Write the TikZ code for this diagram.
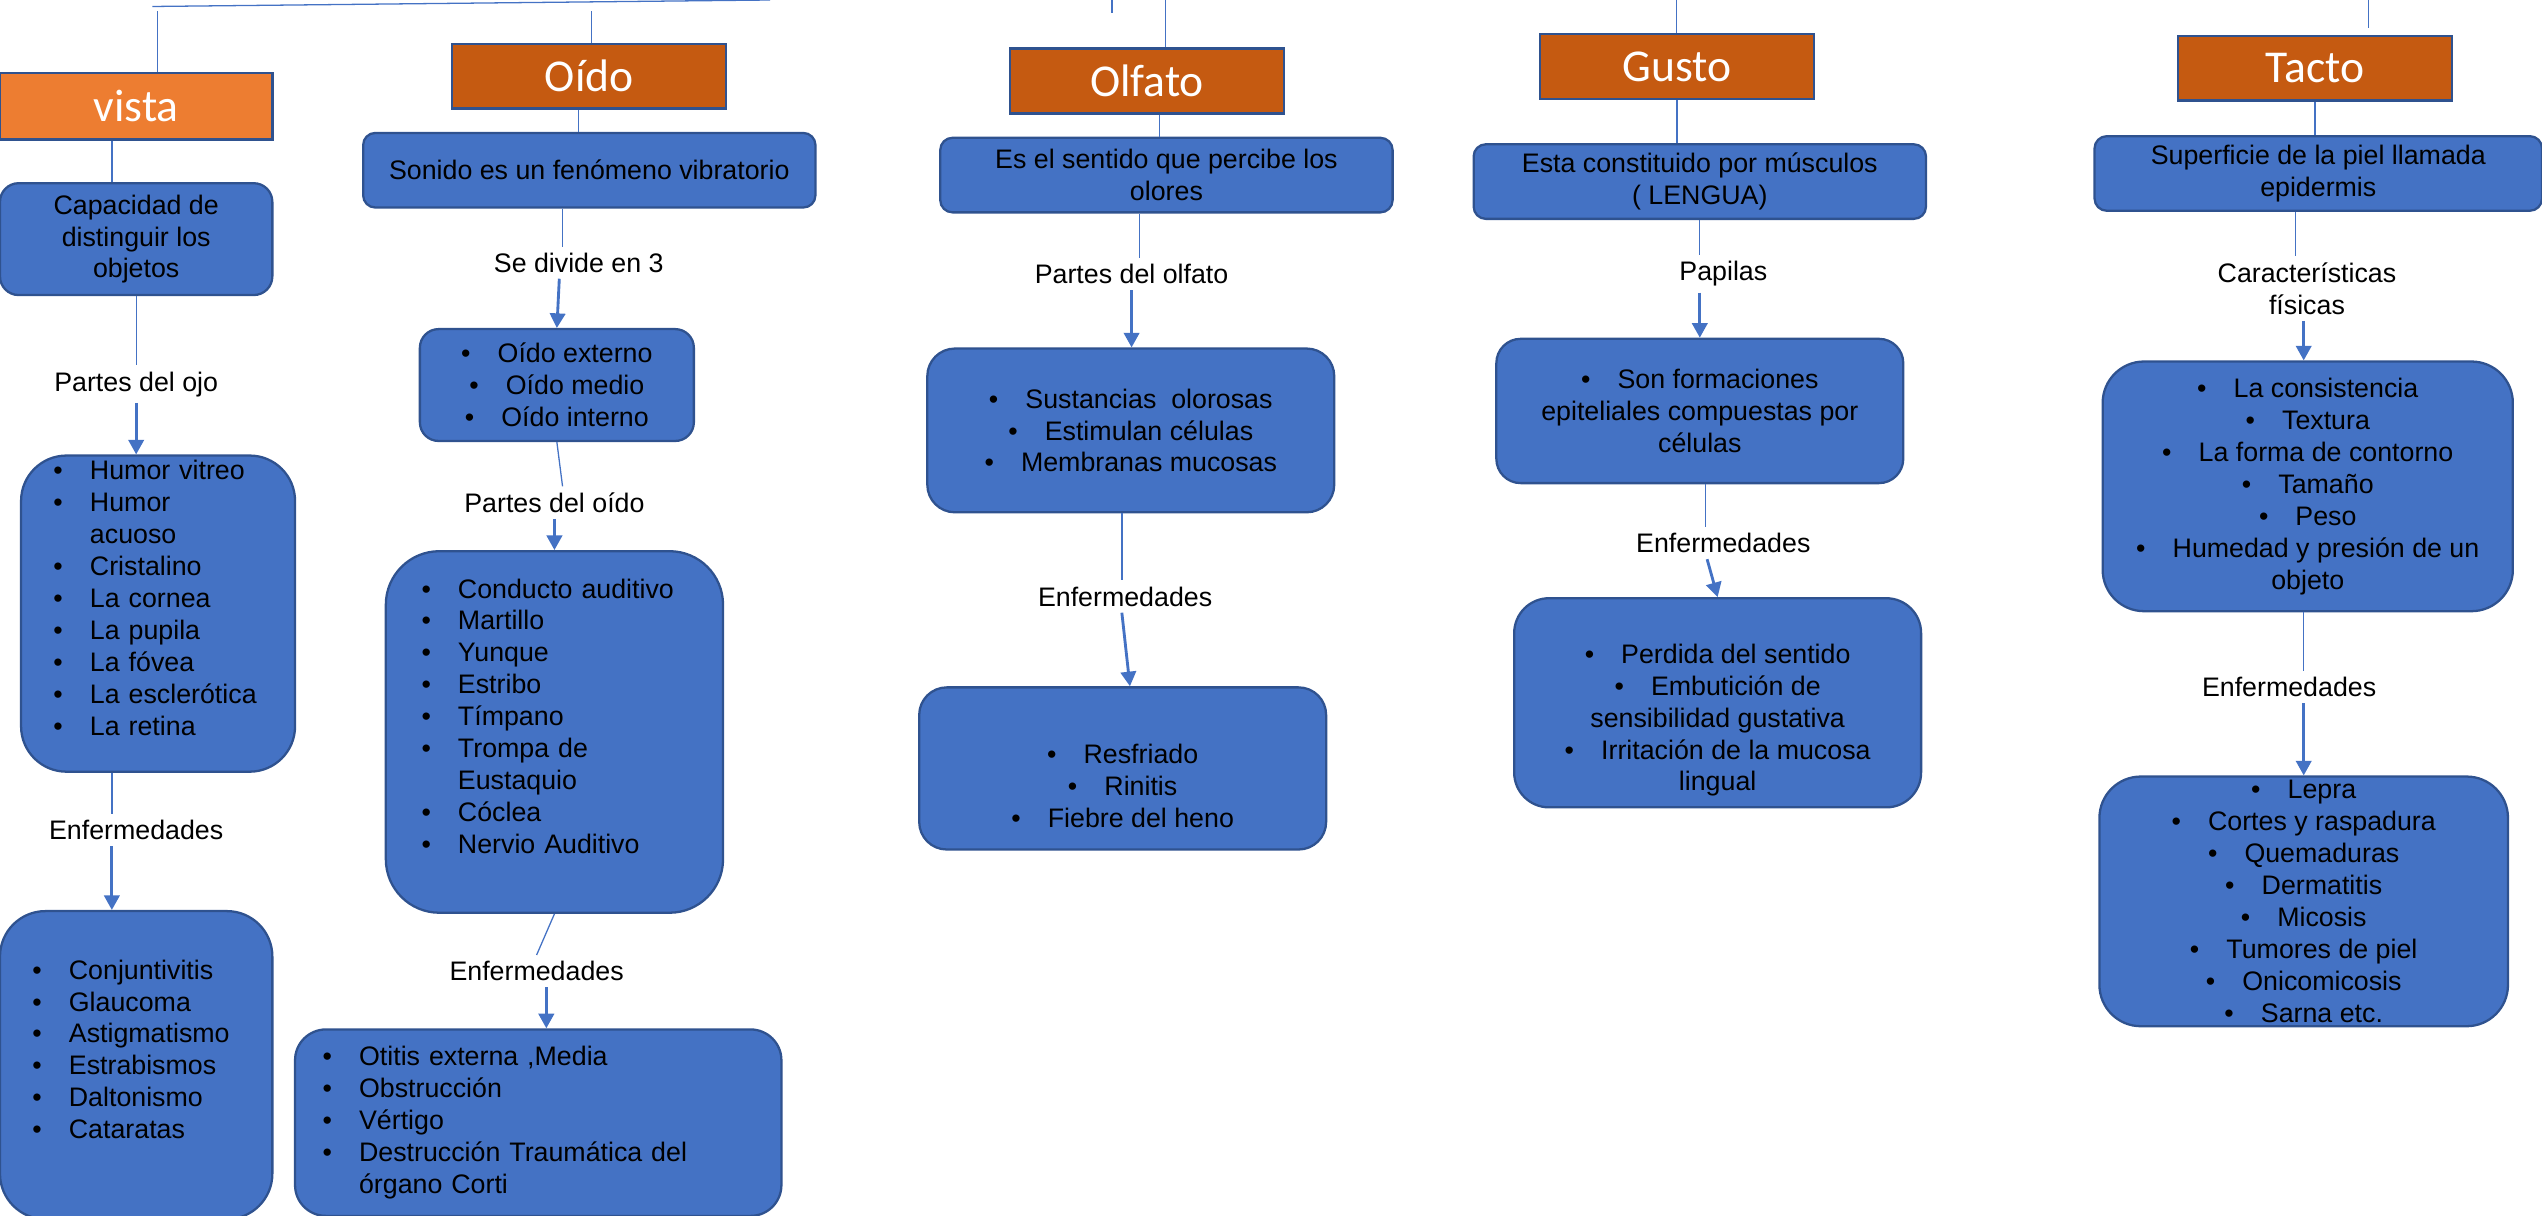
\documentclass[tikz,border=0pt]{standalone}
\usepackage{fontspec}
\setmainfont{Liberation Sans}
\newfontfamily\hdrfont{Carlito}
\usetikzlibrary{arrows.meta}

\definecolor{vistaorange}{HTML}{ED7D31}
\definecolor{senseorange}{HTML}{C55A11}
\definecolor{boxblue}{HTML}{4472C4}
\definecolor{edgeblue}{HTML}{2F528F}

\newcommand{\itm}{\makebox[4.5mm][l]{•}}
\newcommand{\hng}{\hspace*{4.5mm}}

\begin{document}
\begin{tikzpicture}[x=0.2mm,y=-0.2mm,>={Triangle[width=1.9mm,length=1.8mm]},
	font=\fontsize{9.4}{11.2}\selectfont,
	header/.style={draw=edgeblue,line width=0.8pt,fill=senseorange,text=white,
		font=\hdrfont\fontsize{16}{19}\selectfont,minimum width=33.8mm,minimum height=8mm,inner sep=0pt},
	bluebox/.style={draw=edgeblue,line width=0.8pt,fill=boxblue,inner sep=0pt,align=center},
	tag/.style={inner sep=2pt,align=center},
	conn/.style={draw=boxblue,line width=0.45pt},
	arr/.style={conn,line width=1pt,->}]
	\useasboundingbox (0,0) rectangle (1568,750);

	% Headers
	\node[header,fill=vistaorange,minimum width=33.6mm,minimum height=8.2mm] (vista) at (84,65.5) {vista};
	\foreach \nm/\x/\y/\txt in {oido/363.5/47/Oído,olfato/707.5/50/Olfato,gusto/1034.5/41/Gusto,tacto/1428/42/Tacto}
		\node[header] (\nm) at (\x,\y) {\txt};

	% Top branches
	\coordinate (top1) at (94,4);
	\coordinate (top2) at (475,0);
	\draw[conn] (top1) -- (top2);
	\coordinate (tvis) at (97,7);
	\draw[conn] (tvis) -- (tvis |- vista.north);
	\coordinate (toid) at (365,7);
	\draw[conn] (toid) -- (toid |- oido.north);
	\coordinate (ttick) at (686,0);
	\draw[conn] (ttick) -- ++(0,8);
	\coordinate (tolf) at (719,0);
	\draw[conn] (tolf) -- (tolf |- olfato.north);
	\coordinate (tgus) at (1034,0);
	\draw[conn] (tgus) -- (tgus |- gusto.north);
	\coordinate (ttac) at (1461,0);
	\draw[conn] (ttac) -- ++(0,17);

	% Vista
	\node[bluebox,minimum width=33.6mm,minimum height=13.8mm,rounded corners=2.3mm] (cap) at (84,147.5) {Capacidad de\\distinguir los\\objetos};
	\node[tag] (pojo) at (84,237) {Partes del ojo};
	\node[bluebox,minimum width=33.8mm,minimum height=39mm,rounded corners=5.6mm,text width=25.8mm,align=left] (ojo) at (97.5,378.5)
		{\itm Humor vitreo\\\itm Humor\\\hng acuoso\\\itm Cristalino\\\itm La cornea\\\itm La pupila\\\itm La fóvea\\\itm La~esclerótica\\\itm La retina\\~};
	\node[tag] (enfv) at (84,512) {Enfermedades};
	\node[bluebox,minimum width=33.6mm,minimum height=38mm,rounded corners=5.6mm,text width=25.6mm,align=left] (vdis) at (84,657)
		{\itm Conjuntivitis\\\itm Glaucoma\\\itm Astigmatismo\\\itm Estrabismos\\\itm Daltonismo\\\itm Cataratas\\~};
	\draw[conn] ([xshift=-3mm]vista.south) -- ([xshift=-3mm]cap.north);
	\draw[conn] (cap.south) -- (pojo.north);
	\draw[arr] (pojo.south) -- (pojo.south |- ojo.north);
	\draw[conn] ([xshift=-3mm]enfv.north |- ojo.south) -- ([xshift=-3mm]enfv.north);
	\draw[arr] ([xshift=-3mm]enfv.south) -- ([xshift=-3mm]vdis.north);

	% Oido
	\node[bluebox,minimum width=55.8mm,minimum height=9.2mm,rounded corners=1.5mm] (son) at (363.5,105) {Sonido es un fenómeno vibratorio};
	\node[tag] (sdiv) at (357,162) {Se divide en 3};
	\node[bluebox,minimum width=33.8mm,minimum height=13.8mm,rounded corners=2.3mm] (oext) at (343.5,237.5)
		{\itm Oído externo\\\itm Oído medio\\\itm Oído interno};
	\node[tag] (pod) at (342,310) {Partes del oído};
	\node[bluebox,minimum width=41.6mm,minimum height=44.6mm,rounded corners=6.6mm,text width=32.8mm,align=left] (opart) at (342,451.5)
		{\itm Conducto auditivo\\\itm Martillo\\\itm Yunque\\\itm Estribo\\\itm Tímpano\\\itm Trompa de\\\hng Eustaquio\\\itm Cóclea\\\itm Nervio Auditivo\\~};
	\node[tag] (enfo) at (331,599) {Enfermedades};
	\node[bluebox,minimum width=60mm,minimum height=23mm,rounded corners=3.8mm,text width=53.2mm,align=left] (odis) at (332,692.5)
		{\itm Otitis externa ,Media\\\itm Obstrucción\\\itm Vértigo\\\itm Destrucción Traumática del\\\hng órgano Corti};
	\draw[conn] ([xshift=-1.3mm]oido.south) -- ([xshift=-1.3mm]son.north);
	\draw[conn] ([xshift=-2mm]sdiv.north |- son.south) -- ([xshift=-2mm]sdiv.north);
	\draw[arr] ([xshift=-2.4mm]sdiv.south) -- (oext.north);
	\draw[conn] (oext.south) -- ([xshift=1mm]pod.north);
	\draw[arr] (pod.south) -- (pod.south |- opart.north);
	\draw[conn] (opart.south) -- (enfo.north);
	\draw[arr] ([xshift=1.2mm]enfo.south) -- ([xshift=1.2mm]enfo.south |- odis.north);

	% Olfato
	\node[bluebox,minimum width=55.8mm,minimum height=9.2mm,rounded corners=1.5mm] (olfdesc) at (719.5,108) {Es el sentido que percibe los\\olores};
	\node[tag] (polf) at (698,169) {Partes del olfato};
	\node[bluebox,minimum width=50.2mm,minimum height=20.2mm,rounded corners=3.4mm] (olfp) at (697.5,265.5)
		{\itm Sustancias~~olorosas\\\itm Estimulan células\\\itm Membranas mucosas};
	\node[tag] (enfol) at (694,368) {Enfermedades};
	\node[bluebox,minimum width=50.2mm,minimum height=20mm,rounded corners=3.4mm] (olfd) at (692.5,474)
		{\strut\\\itm Resfriado\\\itm Rinitis\\\itm Fiebre del heno};
	\draw[conn] ([xshift=1.5mm]olfato.south) -- ([xshift=1.5mm]olfato.south |- olfdesc.north);
	\draw[conn] ([xshift=1mm]polf.north |- olfdesc.south) -- ([xshift=1mm]polf.north);
	\draw[arr] (polf.south) -- (polf.south |- olfp.north);
	\draw[conn] ([xshift=-0.4mm]enfol.north |- olfp.south) -- ([xshift=-0.4mm]enfol.north);
	\draw[arr] ([xshift=-0.4mm]enfol.south) -- ([xshift=0.9mm]olfd.north);

	% Gusto
	\node[bluebox,minimum width=55.8mm,minimum height=9.2mm,rounded corners=1.5mm] (gusdesc) at (1048.5,112) {Esta constituido por músculos\\( LENGUA)};
	\node[tag] (pap) at (1063,169) {Papilas};
	\node[bluebox,minimum width=50.2mm,minimum height=17.8mm,rounded corners=3mm] (gpap) at (1048.5,253.5)
		{\itm Son formaciones\\epiteliales compuestas por\\células};
	\node[tag] (enfg) at (1063,335) {Enfermedades};
	\node[bluebox,minimum width=50.2mm,minimum height=25.8mm,rounded corners=4.3mm] (gdis) at (1059.5,433.5)
		{\strut\\\itm Perdida del sentido\\\itm Embutición de\\sensibilidad gustativa\\\itm Irritación de la mucosa\\lingual};
	\draw[conn] (gusto.south) -- (gusto.south |- gusdesc.north);
	\draw[conn] (gusdesc.south) -- (gusdesc.south |- pap.north);
	\draw[arr] (gpap.north |- pap.south) -- (gpap.north);
	\draw[conn] ([xshift=0.7mm]gpap.south) -- ([xshift=0.7mm]gpap.south |- enfg.north);
	\draw[arr] ([xshift=-2mm]enfg.south) -- (gdis.north);

	% Tacto
	\node[bluebox,minimum width=55.2mm,minimum height=9.2mm,rounded corners=1.5mm] (tdesc) at (1430,107) {Superficie de la piel llamada\\epidermis};
	\node[tag] (car) at (1423,178) {Características\\físicas};
	\node[bluebox,minimum width=50.6mm,minimum height=30.8mm,rounded corners=5.1mm] (tpart) at (1423.5,300)
		{\itm La consistencia\\\itm Textura\\\itm La forma de contorno\\\itm Tamaño\\\itm Peso\\\itm Humedad y presión de un\\objeto};
	\node[tag] (enft) at (1412,424) {Enfermedades};
	\node[bluebox,minimum width=50.4mm,minimum height=30.8mm,rounded corners=5.1mm] (tdis) at (1421,556)
		{\itm Lepra\\\itm Cortes y raspadura\\\itm Quemaduras\\\itm Dermatitis\\\itm Micosis\\\itm Tumores de piel\\\itm Onicomicosis\\\itm Sarna etc.};
	\draw[conn] (tacto.south) -- (tacto.south |- tdesc.north);
	\draw[conn] ([xshift=-1.4mm]car.north |- tdesc.south) -- ([xshift=-1.4mm]car.north);
	\draw[arr] ([xshift=-0.4mm]car.south) -- ([xshift=-0.4mm]car.south |- tpart.north);
	\draw[conn] ([xshift=1.8mm]enft.north |- tpart.south) -- ([xshift=1.8mm]enft.north);
	\draw[arr] ([xshift=1.8mm]enft.south) -- ([xshift=1.8mm]enft.south |- tdis.north);
\end{tikzpicture}
\end{document}
